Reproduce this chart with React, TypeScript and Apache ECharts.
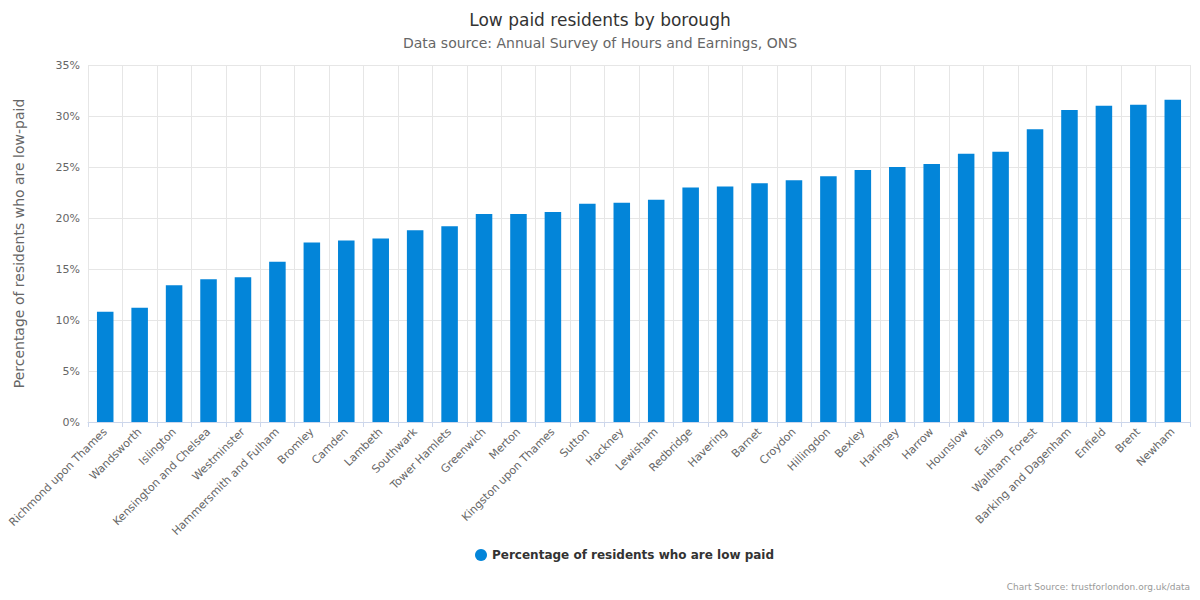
import { useEffect, useRef } from 'react'
import * as echarts from 'echarts'

const boroughs = [
  'Richmond upon Thames', 'Wandsworth', 'Islington', 'Kensington and Chelsea', 'Westminster',
  'Hammersmith and Fulham', 'Bromley', 'Camden', 'Lambeth', 'Southwark', 'Tower Hamlets',
  'Greenwich', 'Merton', 'Kingston upon Thames', 'Sutton', 'Hackney', 'Lewisham', 'Redbridge',
  'Havering', 'Barnet', 'Croydon', 'Hillingdon', 'Bexley', 'Haringey', 'Harrow', 'Hounslow',
  'Ealing', 'Waltham Forest', 'Barking and Dagenham', 'Enfield', 'Brent', 'Newham'
]

const lowPaid = [
  10.8, 11.2, 13.4, 14.0, 14.2, 15.7, 17.6, 17.8, 18.0, 18.8, 19.2,
  20.4, 20.4, 20.6, 21.4, 21.5, 21.8, 23.0, 23.1, 23.4, 23.7, 24.1,
  24.7, 25.0, 25.3, 26.3, 26.5, 28.7, 30.6, 31.0, 31.1, 31.6
]

const font = 'DejaVu Sans, sans-serif'

export default function App() {
  const ref = useRef<HTMLDivElement | null>(null)

  useEffect(() => {
    if (!ref.current) return
    const chart = echarts.init(ref.current, null, { renderer: 'svg' })

    chart.setOption({
      animation: false,
      textStyle: { fontFamily: font },
      title: {
        text: 'Low paid residents by borough',
        subtext: 'Data source: Annual Survey of Hours and Earnings, ONS',
        left: 'center',
        top: 6,
        itemGap: 8,
        textStyle: { fontFamily: font, fontSize: 17, fontWeight: 'normal', color: '#333' },
        subtextStyle: { fontFamily: font, fontSize: 14, color: '#666' }
      },
      graphic: [{
        type: 'text',
        right: 10,
        bottom: 9,
        style: { text: 'Chart Source: trustforlondon.org.uk/data', fontSize: 9, fill: '#999', fontFamily: font }
      }],
      legend: {
        bottom: 34,
        left: 470,
        icon: 'circle',
        itemWidth: 12,
        itemHeight: 12,
        textStyle: { fontFamily: font, fontSize: 12, fontWeight: 'bold', color: '#333' }
      },
      grid: { left: 88, right: 10, top: 65, bottom: 178 },
      xAxis: {
        type: 'category',
        data: boroughs,
        axisTick: { show: true, lineStyle: { color: '#ccd6eb' } },
        axisLine: { lineStyle: { color: '#ccd6eb' } },
        splitLine: { show: true, lineStyle: { color: '#e6e6e6' } },
        axisLabel: { interval: 0, rotate: 45, color: '#666', fontSize: 11, fontFamily: font }
      },
      yAxis: {
        type: 'value',
        min: 0,
        max: 35,
        interval: 5,
        name: 'Percentage of residents who are low-paid',
        nameLocation: 'middle',
        nameGap: 62,
        nameTextStyle: { color: '#666', fontSize: 14, fontFamily: font },
        axisLabel: { formatter: '{value}%', color: '#666', fontSize: 11, fontFamily: font },
        splitLine: { lineStyle: { color: '#e6e6e6' } }
      },
      series: [{
        name: 'Percentage of residents who are low paid',
        type: 'bar',
        data: lowPaid,
        barWidth: '48%',
        itemStyle: { color: '#0385d9' }
      }]
    })

    return () => chart.dispose()
  }, [])

  return <div ref={ref} style={{ width: 1200, height: 600, margin: -8 }} />
}
